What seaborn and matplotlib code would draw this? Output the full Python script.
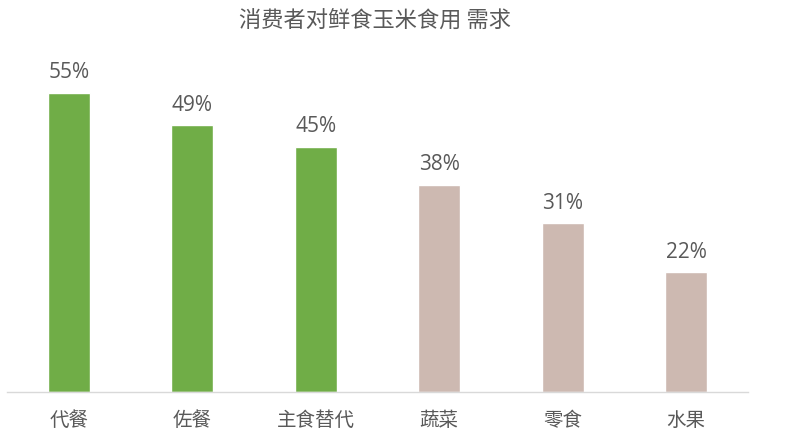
import matplotlib
matplotlib.use("Agg")
import matplotlib.pyplot as plt
import seaborn as sns
import pandas as pd

# chart data
categories = ["代餐", "佐餐", "主食替代", "蔬菜", "零食", "水果"]
values = [55, 49, 45, 38, 31, 22]
groups = ["staple", "staple", "staple", "other", "other", "other"]

df = pd.DataFrame({"category": categories, "value": values, "group": groups})

sns.set_theme(style="white")
plt.rcParams["font.family"] = ["Noto Sans CJK SC", "DejaVu Sans"]

text_color = "#595959"
palette = {"staple": "#70AD47", "other": "#CDB9B1"}

fig = plt.figure(figsize=(7.88, 4.44), dpi=100)
ax = fig.add_axes([0.009, 0.117, 0.94, 0.748])

sns.barplot(data=df, x="category", y="value", hue="group", palette=palette,
            dodge=False, width=0.34, saturation=1, legend=False, ax=ax)

# value labels above bars
for container in ax.containers:
    ax.bar_label(container, labels=[f"{v:.0f}%" for v in container.datavalues],
                 padding=7, fontsize=15, color=text_color,
                 family=["Open Sans", "DejaVu Sans"])

ax.set_ylim(0, 61)
ax.set_xlim(-0.5, 5.5)
ax.set_xlabel("")
ax.set_ylabel("")
ax.set_yticks([])
ax.tick_params(axis="x", length=0, pad=13, labelsize=14, labelcolor=text_color)

for side in ["top", "right", "left"]:
    ax.spines[side].set_visible(False)
ax.spines["bottom"].set_color("#D9D9D9")
ax.spines["bottom"].set_linewidth(1)

fig.text(0.476, 0.953, "消费者对鲜食玉米食用 需求", ha="center", va="center",
         fontsize=16, color=text_color)

fig.savefig("out.png", dpi=100)
